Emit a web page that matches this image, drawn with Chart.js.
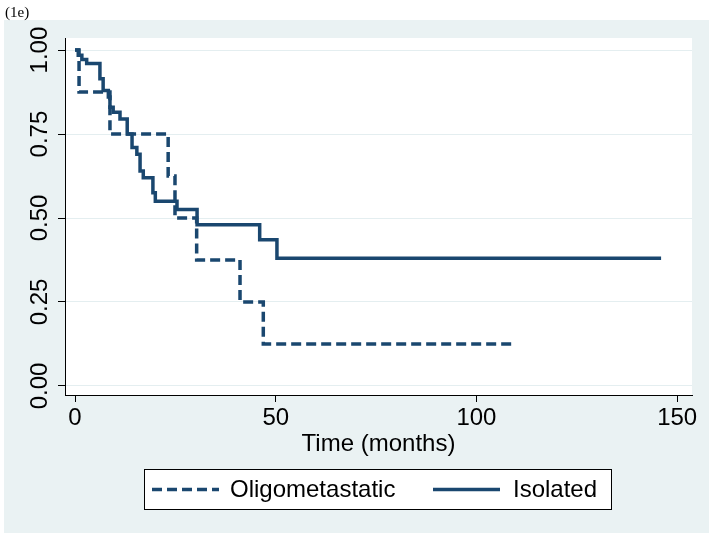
<!DOCTYPE html>
<html>
<head>
<meta charset="utf-8">
<script src="https://cdn.jsdelivr.net/npm/chart.js@4.4.1/dist/chart.umd.min.js"></script>
<style>
  html, body { margin: 0; padding: 0; background: #ffffff; }
  #wrap { width: 714px; height: 539px; }
</style>
</head>
<body>
<div id="wrap"><canvas id="c" width="714" height="539"></canvas></div>
<script>
// ---- Data ----
const seriesNames = ['Oligometastatic', 'Isolated'];
const oligoTime = [0, 1, 8.7, 23.2, 24.9, 30.3, 41.1, 46.9, 109];
const oligoSurv = [1.0, 0.875, 0.75, 0.625, 0.5, 0.375, 0.25, 0.125, 0.125];
const isoTime = [0, 0.8, 1.7, 2.9, 6.2, 7, 8.3, 8.7, 9.5, 11.2, 13, 14.2, 15.4, 16.2, 17, 19.4, 20, 25.4, 30.4, 46, 50.3, 146];
const isoSurv = [1.0, 0.985, 0.972, 0.96, 0.915, 0.88, 0.86, 0.83, 0.815, 0.795, 0.75, 0.71, 0.69, 0.64, 0.62, 0.575, 0.55, 0.525, 0.48, 0.435, 0.38, 0.38];
const xTickValues = [0, 50, 100, 150];
const yTickValues = [0, 0.25, 0.5, 0.75, 1];
const xTitle = 'Time (months)';
const panelLabel = '(1e)';

const NAVY = '#1a476f';
const BG = '#eaf2f3';
const FONT = "'Liberation Sans', Arial, Helvetica, sans-serif";

function toPoints(xs, ys) { return xs.map((x, i) => ({ x: x, y: ys[i] })); }

const framePlugin = {
  id: 'frame',
  beforeDraw(chart) {
    const ctx = chart.ctx;
    const a = chart.chartArea;
    ctx.save();
    ctx.fillStyle = '#ffffff';
    ctx.fillRect(0, 0, chart.width, chart.height);
    ctx.fillStyle = BG;
    ctx.fillRect(4, 20, 705, 513);
    ctx.fillStyle = '#ffffff';
    ctx.fillRect(a.left, a.top, a.right - a.left, a.bottom - a.top);
    ctx.fillStyle = '#000000';
    ctx.font = "15px 'Liberation Serif', 'Times New Roman', serif";
    ctx.textBaseline = 'alphabetic';
    ctx.textAlign = 'left';
    ctx.fillText(panelLabel, 5, 17);
    ctx.restore();
  },
  afterDraw(chart) {
    const ctx = chart.ctx;
    ctx.save();
    // legend box
    const bx = 144.5, by = 469.5, bw = 467, bh = 40;
    ctx.fillStyle = '#ffffff';
    ctx.fillRect(bx, by, bw, bh);
    ctx.strokeStyle = '#000000';
    ctx.lineWidth = 1;
    ctx.strokeRect(bx, by, bw, bh);
    const ly = 489.5;
    const ds = chart.data.datasets;
    const items = [
      { x0: 152, x1: 219, tx: 230, ds: ds[0] },
      { x0: 433, x1: 500, tx: 513, ds: ds[1] }
    ];
    items.forEach(it => {
      ctx.strokeStyle = it.ds.borderColor;
      ctx.lineWidth = it.ds.borderWidth;
      ctx.setLineDash(it.ds.borderDash || []);
      ctx.beginPath();
      ctx.moveTo(it.x0, ly);
      ctx.lineTo(it.x1, ly);
      ctx.stroke();
      ctx.setLineDash([]);
      ctx.fillStyle = '#000000';
      ctx.font = '24px ' + FONT;
      ctx.textBaseline = 'middle';
      ctx.textAlign = 'left';
      ctx.fillText(it.ds.label, it.tx, ly + 1);
    });
    ctx.restore();
  }
};

new Chart(document.getElementById('c'), {
  type: 'line',
  data: {
    datasets: [
      {
        label: seriesNames[0],
        data: toPoints(oligoTime, oligoSurv),
        borderColor: NAVY,
        borderWidth: 3.5,
        borderDash: [10, 5],
        stepped: 'before',
        pointRadius: 0,
        fill: false
      },
      {
        label: seriesNames[1],
        data: toPoints(isoTime, isoSurv),
        borderColor: NAVY,
        borderWidth: 3.5,
        stepped: 'before',
        pointRadius: 0,
        fill: false
      }
    ]
  },
  options: {
    responsive: false,
    animation: false,
    devicePixelRatio: 1,
    layout: { padding: { left: 5, right: 22, top: 38, bottom: 80 } },
    plugins: { legend: { display: false }, tooltip: { enabled: false } },
    scales: {
      x: {
        type: 'linear',
        min: -2.5,
        max: 153.7,
        afterFit: s => { s.height = 64; },
        afterBuildTicks: s => { s.ticks = xTickValues.map(v => ({ value: v })); },
        ticks: { font: { family: FONT, size: 24 }, color: '#000', padding: 2, maxRotation: 0, minRotation: 0, callback: v => String(v) },
        grid: { drawOnChartArea: false, drawTicks: true, tickLength: 7, tickColor: '#000', tickWidth: 1 },
        border: { display: true, color: '#000', width: 1 },
        title: { display: true, text: xTitle, font: { family: FONT, size: 24 }, color: '#000', padding: { top: 0, bottom: 0 } }
      },
      y: {
        type: 'linear',
        min: -0.027,
        max: 1.036,
        afterFit: s => { s.width = 60; },
        afterBuildTicks: s => { s.ticks = yTickValues.map(v => ({ value: v })); },
        ticks: { font: { family: FONT, size: 24 }, color: '#000', padding: -6, minRotation: 90, maxRotation: 90, crossAlign: 'center', callback: v => Number(v).toFixed(2) },
        grid: { drawOnChartArea: true, color: '#e4eef0', lineWidth: 1, drawTicks: true, tickLength: 7, tickColor: '#000', tickWidth: 1 },
        border: { display: true, color: '#000', width: 1 }
      }
    }
  },
  plugins: [framePlugin]
});
</script>
</body>
</html>
